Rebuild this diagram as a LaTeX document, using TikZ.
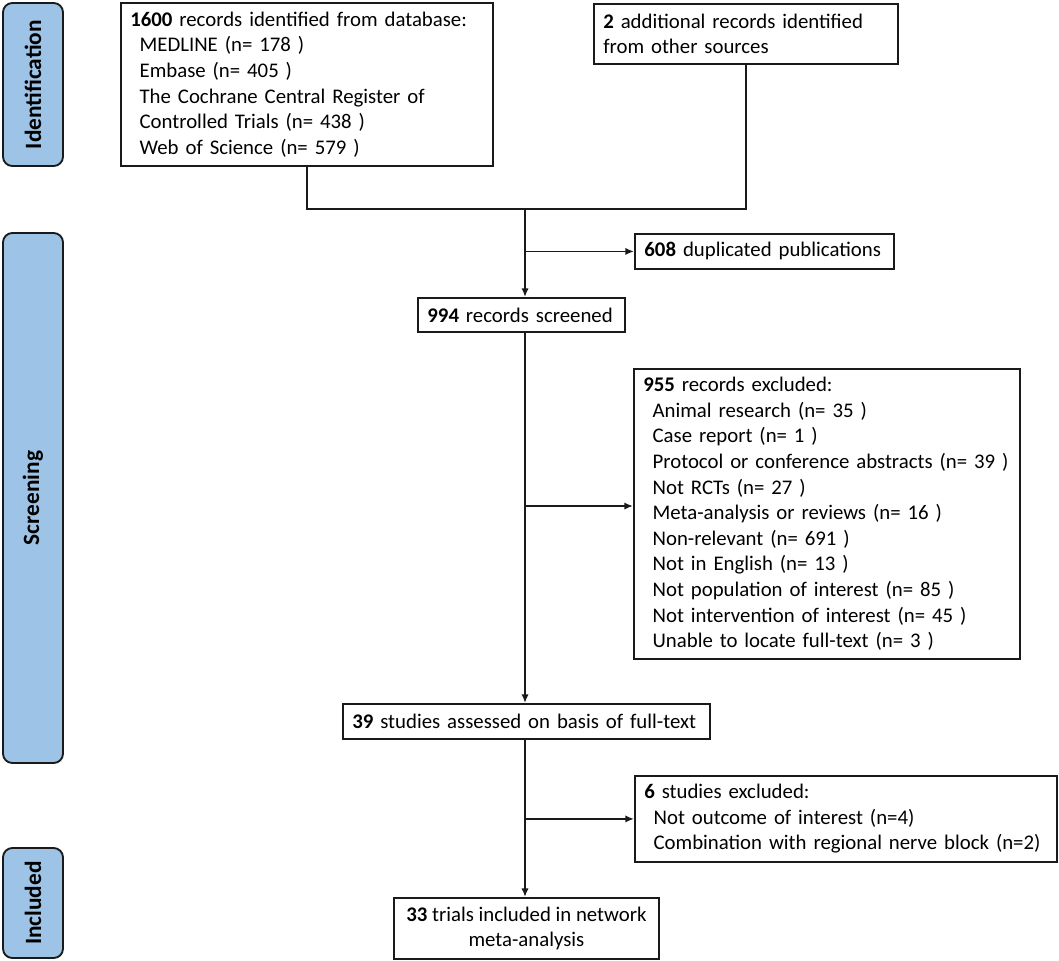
\documentclass[tikz,border=0pt]{standalone}
\usepackage{fontspec}
\setmainfont{Carlito}
\usetikzlibrary{arrows.meta}
\definecolor{sidefill}{HTML}{9DC3E6}
\definecolor{edge}{HTML}{1A1A1A}
\begin{document}
\begin{tikzpicture}[x=0.75pt,y=-0.75pt,
  box/.style={draw=edge, line width=1.4pt, fill=white, anchor=north west, align=left,
    inner xsep=7pt, inner ysep=2pt, font=\fontsize{15.6}{19.2}\selectfont},
  sidebox/.style={draw=edge, line width=1.4pt, fill=sidefill, rounded corners=7pt,
    rotate=90, inner sep=0pt, font=\fontsize{17.5}{20}\selectfont\bfseries},
  conn/.style={draw=edge, line width=1.4pt},
  arr/.style={conn, -{Latex[length=6.5pt,width=5.5pt]}}
]
\useasboundingbox (0,0) rectangle (1059,960);
\newcommand{\ind}{\hspace*{7pt}}

% side labels
\node[sidebox, minimum width=122.25pt, minimum height=45pt] (ident) at (33,84.5) {Identification};
\node[sidebox, minimum width=397.5pt, minimum height=45pt] (screen) at (33,498) {Screening};
\node[sidebox, minimum width=82.5pt, minimum height=45pt] (incl) at (33,903) {Included};

% boxes
\node[box, minimum width=279pt, minimum height=122.25pt, text width=265pt] (A) at (120,2)
  {\textbf{1600} records identified from database:\\
   \ind MEDLINE (n= 178 )\\
   \ind Embase (n= 405 )\\
   \ind The Cochrane Central Register of\\
   \ind Controlled Trials (n= 438 )\\
   \ind Web of Science (n= 579 )};
\node[box, minimum width=228pt, minimum height=45pt, text width=214pt] (B) at (593,3)
  {\textbf{2} additional records identified\\ from other sources};
\node[box, minimum width=194.25pt, minimum height=26.25pt, text width=180pt] (dup) at (634,233)
  {\textbf{608} duplicated publications};
\node[box, minimum width=155.25pt, minimum height=25.5pt, text width=141pt] (scr) at (417,297)
  {\textbf{994} records screened};
\node[box, minimum width=289.5pt, minimum height=217.5pt, text width=275.5pt] (exc) at (633,368)
  {\textbf{955} records excluded:\\
   \ind Animal research (n= 35 )\\
   \ind Case report (n= 1 )\\
   \ind Protocol or conference abstracts (n= 39 )\\
   \ind Not RCTs (n= 27 )\\
   \ind Meta-analysis or reviews (n= 16 )\\
   \ind Non-relevant (n= 691 )\\
   \ind Not in English (n= 13 )\\
   \ind Not population of interest (n= 85 )\\
   \ind Not intervention of interest (n= 45 )\\
   \ind Unable to locate full-text (n= 3 )};
\node[box, minimum width=275.25pt, minimum height=26.25pt, text width=261.25pt] (full) at (342,703)
  {\textbf{39} studies assessed on basis of full-text};
\node[box, minimum width=316.5pt, minimum height=64.5pt, text width=302.5pt] (six) at (634,775)
  {\textbf{6} studies excluded:\\
   \ind Not outcome of interest (n=4)\\
   \ind Combination with regional nerve block (n=2)};
\node[box, minimum width=198.75pt, minimum height=45.75pt, align=center, inner xsep=2pt] (inc) at (393,897)
  {\textbf{33} trials included in network\\ meta-analysis};

% connectors
\coordinate (m) at (525,209);
\draw[conn] (A.south) |- (m) -| (B.south);
\draw[arr] (m) -- (m |- scr.north);
\draw[arr] (dup.west -| m) -- (dup.west);
\draw[arr] (scr.south -| m) -- (m |- full.north);
\coordinate (b2) at (525,506);
\draw[arr] (b2) -- (b2 -| exc.west);
\draw[arr] (full.south -| m) -- (m |- inc.north);
\draw[arr] (six.west -| m) -- (six.west);
\end{tikzpicture}
\end{document}
